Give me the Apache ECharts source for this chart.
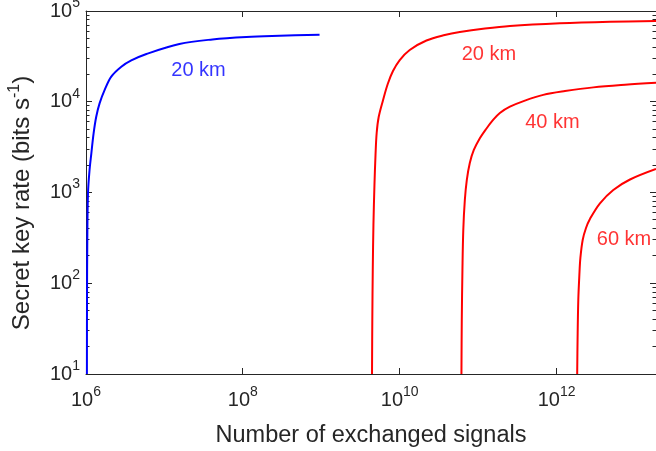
<!DOCTYPE html>
<html>
<head>
<meta charset="utf-8">
<script src="https://cdn.jsdelivr.net/npm/echarts@6/dist/echarts.min.js"></script>
<style>
html,body{margin:0;padding:0;background:#fff;}
#chart{width:656px;height:451px;}
</style>
</head>
<body>
<div id="chart"></div>
<script>
// ---- data ----
const blueX = [1.027e6, 1.03e6, 1.039e6, 1.06e6, 1.11e6, 1.17e6, 1.25e6, 1.35e6, 1.49e6, 1.73e6, 2.1e6, 2.82e6, 3.78e6, 5.89e6, 1.55e7, 4.09e7, 1.11e8, 2.94e8, 9.5e8];
const blueY = [10, 65.3, 300, 980, 1770, 2700, 4490, 6840, 9600, 13500, 18900, 24300, 28500, 33600, 43300, 48600, 51700, 53300, 54800];

const red20X = [4.43e9, 4.47e9, 4.53e9, 4.62e9, 4.76e9, 4.91e9, 5.08e9, 5.39e9, 6.12e9, 7.03e9, 8.2e9, 1.0e10, 1.34e10, 2.19e10, 3.75e10, 5.83e10, 1.22e11, 2.54e11, 1.1e12, 4.8e12, 1.85e13];
const red20Y = [10, 39.4, 140, 438, 1210, 2590, 4530, 6790, 10400, 15700, 21800, 28800, 37200, 47300, 54400, 58700, 64100, 68400, 73200, 76100, 77600];

const red40X = [6.12e10, 6.18e10, 6.3e10, 6.46e10, 6.76e10, 7.16e10, 7.82e10, 8.8e10, 1.05e11, 1.25e11, 1.55e11, 1.89e11, 2.54e11, 3.94e11, 6.75e11, 1.28e12, 2.94e12, 7.45e12, 1.85e13];
const red40Y = [10, 39.4, 140, 386, 826, 1370, 2110, 2940, 3960, 4950, 6300, 7520, 8820, 10300, 11900, 13100, 14400, 15400, 16200];

const red60X = [1.83e12, 1.85e12, 1.89e12, 1.95e12, 2.01e12, 2.15e12, 2.37e12, 2.66e12, 3.57e12, 5.28e12, 8.63e12, 1.85e13];
const red60Y = [10, 23.7, 65.3, 123, 190, 300, 406, 511, 760, 1066, 1390, 1815];

const labelTexts = ['20 km', '20 km', '40 km', '60 km'];
const labelX = [2.72e7, 1.37e11, 8.85e11, 7.24e12];
const labelY = [2.19e4, 3.36e4, 5.9e3, 300];

const xTickValues = [1e6, 1e8, 1e10, 1e12];
const yTickValues = [10, 100, 1000, 10000, 100000];
const yMinorTickValues = [];
for (let n = 1; n <= 4; n++) for (let m = 2; m <= 9; m++) yMinorTickValues.push(m * Math.pow(10, n));

const xMin = 1e6, xMax = 1.85e13, yMin = 10, yMax = 1e5;

// ---- styles ----
const FONT = "'Liberation Sans', Arial, Helvetica, sans-serif";
const AX = '#262626';
const labelColors = ['#0000ff', '#ff0000', '#ff0000', '#ff0000'];
const MAJOR_LEN = 6, MINOR_LEN = 3.5;

function pairs(xs, ys) { return xs.map((x, i) => [x, ys[i]]); }
function powFmt(v) { const e = Math.round(Math.log10(v)); return '{b|10}{s|' + e + '}'; }
const lg = v => Math.log10(v);
const isDecade = v => Math.abs(lg(v) - Math.round(lg(v))) < 1e-9;

const xRich = {
  b: {fontSize: 20, lineHeight: 20, fontFamily: FONT, color: AX, verticalAlign: 'bottom'},
  s: {fontSize: 14, lineHeight: 14, fontFamily: FONT, color: AX, verticalAlign: 'bottom', padding: [0, 0, 11, 0]}
};
const yRich = {
  b: {fontSize: 20, lineHeight: 20, fontFamily: FONT, color: AX, verticalAlign: 'bottom', padding: [14, 0, 0, 0]},
  s: {fontSize: 14, lineHeight: 14, fontFamily: FONT, color: AX, verticalAlign: 'bottom', padding: [0, 0, 11, 0]}
};

const xMain = {
  type: 'log', logBase: 10, position: 'bottom', min: xMin, max: xMax,
  axisLine: {show: true, lineStyle: {color: AX, width: 1}},
  axisTick: {show: false},
  axisLabel: {show: true, customValues: xTickValues, margin: 16, formatter: powFmt, rich: xRich},
  splitLine: {show: false},
  name: 'Number of exchanged signals', nameLocation: 'middle', nameGap: 50,
  nameTextStyle: {fontSize: 23.5, fontFamily: FONT, color: AX, lineHeight: 23}
};
const xTop = {
  type: 'log', logBase: 10, position: 'top', min: xMin, max: xMax,
  axisLine: {show: true, lineStyle: {color: AX, width: 1}},
  axisTick: {show: false}, axisLabel: {show: false}, splitLine: {show: false}
};
const yMain = {
  type: 'log', logBase: 10, position: 'left', min: yMin, max: yMax,
  axisLine: {show: true, lineStyle: {color: AX, width: 1}},
  axisTick: {show: false},
  axisLabel: {show: true, customValues: yTickValues, margin: 6, formatter: powFmt, rich: yRich},
  splitLine: {show: false},
  name: '{t|Secret key rate (bits s}{s|-1}{e|)}', nameLocation: 'middle', nameRotate: 90, nameGap: 52,
  nameTextStyle: {
    fontFamily: FONT, color: AX,
    rich: {
      t: {fontSize: 24, lineHeight: 24, fontFamily: FONT, color: AX, verticalAlign: 'bottom'},
      e: {fontSize: 24, lineHeight: 24, fontFamily: FONT, color: AX, verticalAlign: 'bottom', padding: [0, 21, 0, 0]},
      s: {fontSize: 16, lineHeight: 16, fontFamily: FONT, color: AX, verticalAlign: 'bottom', padding: [0, 0, 11, 0]}
    }
  }
};
const yRight = {
  type: 'log', logBase: 10, position: 'right', min: yMin, max: yMax,
  axisLine: {show: true, lineStyle: {color: AX, width: 1}},
  axisTick: {show: false}, axisLabel: {show: false}, splitLine: {show: false}
};

const lineSeries = (name, xs, ys, color) => ({
  name, type: 'line', xAxisIndex: 0, yAxisIndex: 0,
  data: pairs(xs, ys), showSymbol: false, symbol: 'none',
  smooth: 0.35,
  lineStyle: {color, width: 2}, clip: true, silent: true
});

// inward tick marks on all four sides, positioned through the log axes
const yTickSeries = {
  type: 'custom', xAxisIndex: 0, yAxisIndex: 0, silent: true, clip: false, z: 3,
  data: yTickValues.concat(yMinorTickValues).map(v => [xMin, v]),
  renderItem: function (params, api) {
    const v = api.value(1);
    const len = isDecade(v) ? MAJOR_LEN : MINOR_LEN;
    const pL = api.coord([xMin, v]);
    const pR = api.coord([xMax, v]);
    const y = Math.round(pL[1] - 0.5) + 0.5;
    return {
      type: 'group',
      children: [
        {type: 'line', shape: {x1: pL[0], y1: y, x2: pL[0] + len, y2: y}, style: {stroke: AX, lineWidth: 1}},
        {type: 'line', shape: {x1: pR[0], y1: y, x2: pR[0] - len, y2: y}, style: {stroke: AX, lineWidth: 1}}
      ]
    };
  }
};
const xTickSeries = {
  type: 'custom', xAxisIndex: 0, yAxisIndex: 0, silent: true, clip: false, z: 3,
  data: xTickValues.map(v => [v, yMin]),
  renderItem: function (params, api) {
    const v = api.value(0);
    const pB = api.coord([v, yMin]);
    const pT = api.coord([v, yMax]);
    const x = Math.round(pB[0] - 0.5) + 0.5;
    return {
      type: 'group',
      children: [
        {type: 'line', shape: {x1: x, y1: pB[1], x2: x, y2: pB[1] - MAJOR_LEN}, style: {stroke: AX, lineWidth: 1}},
        {type: 'line', shape: {x1: x, y1: pT[1], x2: x, y2: pT[1] + MAJOR_LEN}, style: {stroke: AX, lineWidth: 1}}
      ]
    };
  }
};

const option = {
  animation: false,
  backgroundColor: '#ffffff',
  grid: {left: 86, top: 11, right: 0, bottom: 77, containLabel: false, outerBoundsMode: 'none'},
  xAxis: [xMain, xTop],
  yAxis: [yMain, yRight],
  series: [
    lineSeries('blue20', blueX, blueY, '#0000ff'),
    lineSeries('red20', red20X, red20Y, '#ff0000'),
    lineSeries('red40', red40X, red40Y, '#ff0000'),
    lineSeries('red60', red60X, red60Y, '#ff0000'),
    yTickSeries,
    xTickSeries,
    {
      type: 'scatter', xAxisIndex: 0, yAxisIndex: 0, symbolSize: 0, silent: true,
      data: labelTexts.map((t, i) => ({
        value: [labelX[i], labelY[i]],
        label: {show: true, position: 'inside', formatter: t, color: labelColors[i], fontSize: 20, fontFamily: FONT}
      }))
    }
  ]
};

const chart = echarts.init(document.getElementById('chart'), null, {renderer: 'canvas'});
chart.setOption(option);
</script>
</body>
</html>
